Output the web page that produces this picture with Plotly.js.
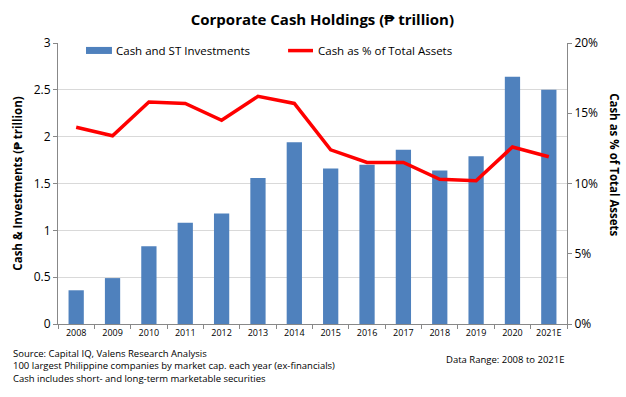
<!DOCTYPE html>
<html><head><meta charset="utf-8">
<script src="https://cdn.plot.ly/plotly-3.0.1.min.js"></script>
<style>body{margin:0;background:#fff}#c{width:626px;height:397px}</style>
</head><body><div id="c"></div>
<script>
const years = ['2008','2009','2010','2011','2012','2013','2014','2015','2016','2017','2018','2019','2020','2021E'];
const cashST = [0.36,0.49,0.83,1.08,1.18,1.56,1.94,1.66,1.70,1.86,1.64,1.79,2.64,2.50];
const cashPct = [14.0,13.4,15.8,15.7,14.5,16.2,15.7,12.4,11.5,11.5,10.3,10.2,12.6,11.9];
const leftTicks = [0,0.5,1,1.5,2,2.5,3];
const leftTickText = ['0','0.5','1','1.5','2','2.5','3'];
const rightTicks = [0,5,10,15,20];
const rightTickText = ['0%','5%','10%','15%','20%'];
const seriesNames = ['Cash and ST Investments','Cash as % of Total Assets'];

const F = 'Open Sans, sans-serif';
const BLUE = '#4F81BD', RED = '#FF0000';
const traces = [
  {type:'bar', x:years, y:cashST, name:seriesNames[0], marker:{color:BLUE}, yaxis:'y'},
  {type:'scatter', mode:'lines', x:years, y:cashPct, name:seriesNames[1], line:{color:RED, width:3.5}, yaxis:'y2'}
];
const layout = {
  width:626, height:397,
  margin:{l:58, r:59, t:43, b:73},
  paper_bgcolor:'#fff', plot_bgcolor:'#fff',
  font:{family:F, size:12, color:'#000'},
  title:{text:'<b>Corporate Cash Holdings (₱ trillion)</b>', x:0.515, xanchor:'center', y:0.95, yanchor:'middle', font:{family:F, size:15, color:'#000'}},
  bargap:0.58,
  showlegend:false,
  xaxis:{type:'category', showline:true, linecolor:'#888', linewidth:1, ticks:'outside', tickcolor:'#888', ticklen:4, tickson:'boundaries', tickfont:{family:F, size:9}, showgrid:false, zeroline:false},
  yaxis:{range:[0,3], tickvals:leftTicks, ticktext:leftTickText, showline:true, linecolor:'#888', ticks:'outside', tickcolor:'#888', ticklen:4, gridcolor:'#D9D9D9', zeroline:false, tickfont:{family:F, size:12},
    title:{text:'<b>Cash & Investments (₱ trillion)</b>', font:{family:F, size:11.5}, standoff:8}},
  yaxis2:{range:[0,20], overlaying:'y', side:'right', tickvals:rightTicks, ticktext:rightTickText, showline:true, linecolor:'#888', ticks:'outside', tickcolor:'#888', ticklen:4, showgrid:false, zeroline:false, tickfont:{family:F, size:12}},
  shapes:[
    {type:'rect', xref:'paper', yref:'paper', x0:0.055, x1:0.106, y0:0.961, y1:0.986, fillcolor:BLUE, line:{width:0}},
    {type:'line', xref:'paper', yref:'paper', x0:0.452, x1:0.501, y0:0.973, y1:0.973, line:{color:RED, width:3.5}}
  ],
  annotations:[
    {xref:'paper', yref:'paper', x:0.110, y:0.973, xanchor:'left', yanchor:'middle', showarrow:false, text:seriesNames[0], font:{family:F, size:11.5}},
    {xref:'paper', yref:'paper', x:0.507, y:0.973, xanchor:'left', yanchor:'middle', showarrow:false, text:seriesNames[1], font:{family:F, size:11.5}},
    {xref:'paper', yref:'paper', x:1.092, y:0.566, xanchor:'center', yanchor:'middle', showarrow:false, textangle:90,
     text:'<b>Cash as % of Total Assets</b>', font:{family:F, size:11.5}},
    {xref:'paper', yref:'paper', x:-0.092, y:-0.075, xanchor:'left', yanchor:'top', align:'left', showarrow:false,
     text:'Source: Capital IQ, Valens Research Analysis<br>100 largest Philippine companies by market cap. each year (ex-financials)<br>Cash includes short- and long-term marketable securities',
     font:{family:F, size:9.5}},
    {xref:'paper', yref:'paper', x:1.0, y:-0.095, xanchor:'right', yanchor:'top', showarrow:false,
     text:'Data Range: 2008 to 2021E', font:{family:F, size:9.5}}
  ]
};
Plotly.newPlot('c', traces, layout, {displayModeBar:false, staticPlot:true});
</script></body></html>
